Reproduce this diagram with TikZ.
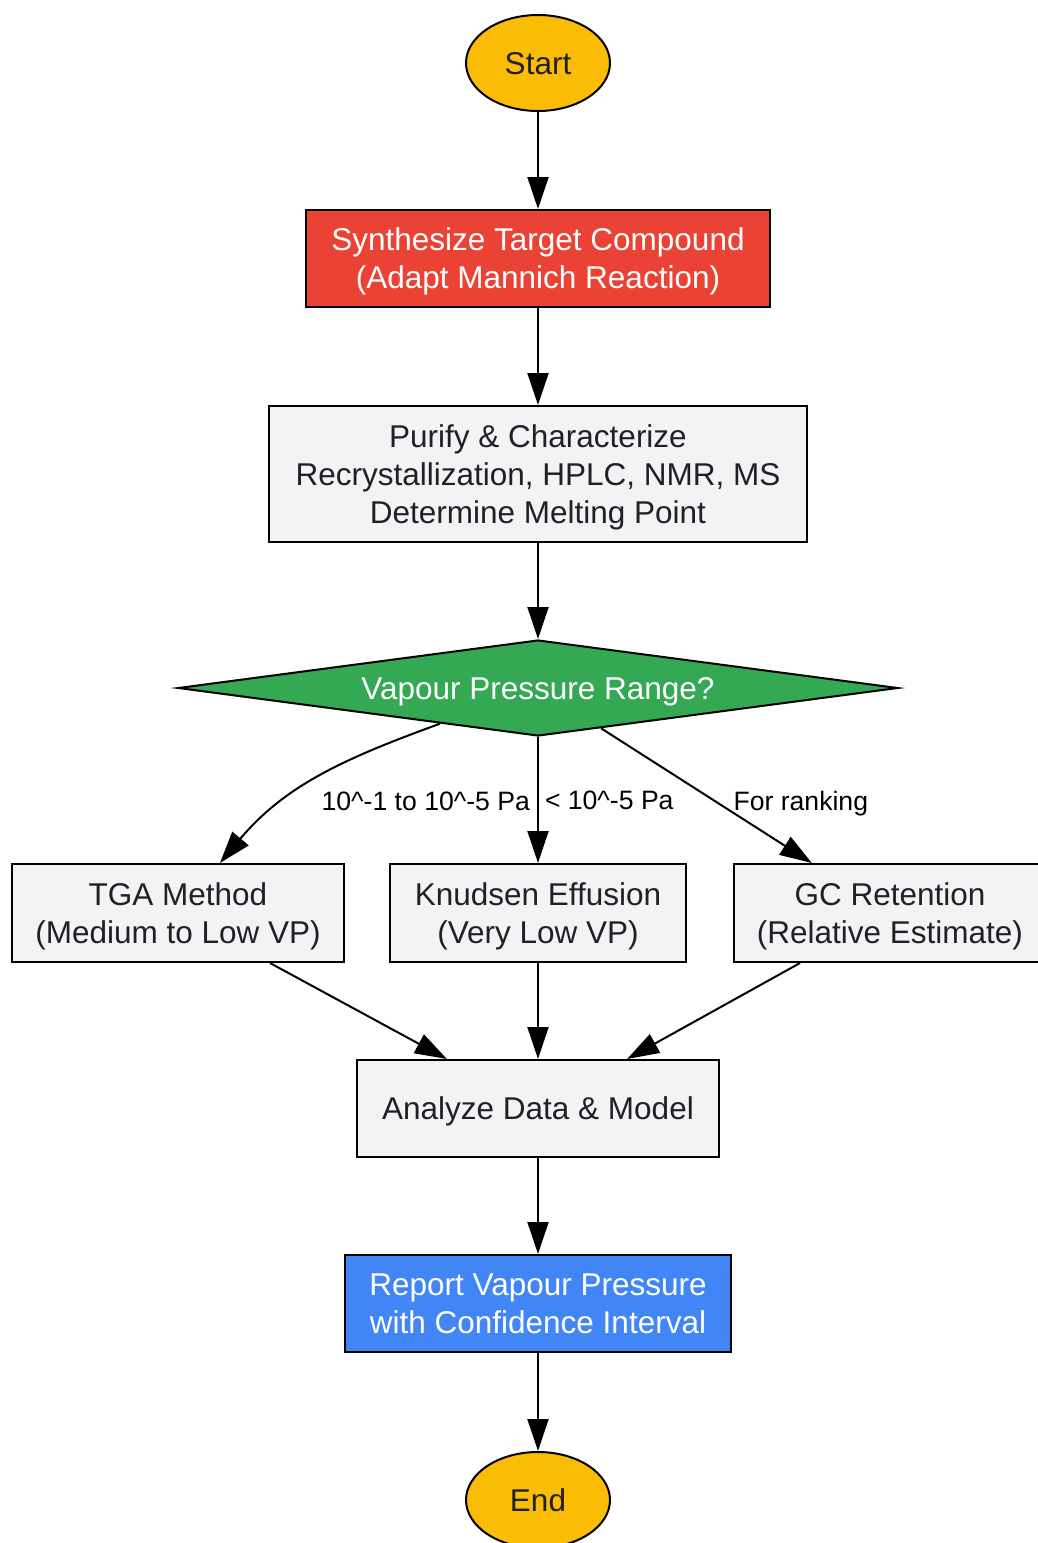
\documentclass[tikz,border=0pt]{standalone}
\usepackage{fontspec}
\setmainfont{Liberation Sans}
\usepackage{tikz}
\usetikzlibrary{shapes.geometric,arrows.meta}
\usetikzlibrary{positioning}
\definecolor{gred}{HTML}{EA4335}
\definecolor{ggreen}{HTML}{34A853}
\definecolor{gblue}{HTML}{4285F4}
\definecolor{gyellow}{HTML}{FBBC05}
\definecolor{ggray}{HTML}{F1F3F4}
\definecolor{gtext}{HTML}{202124}
\newcommand{\vpboxfont}{\fontsize{15.75}{19}\selectfont}
\newcommand{\vplabelfont}{\fontsize{13.3}{16}\selectfont}
\tikzstyle{terminal}=[ellipse,draw,line width=1pt,fill=gyellow,text=gtext,minimum width=72pt,minimum height=48pt,inner sep=0pt,text depth=0pt,font=\vpboxfont]
\tikzstyle{stepbox}=[rectangle,draw,line width=1pt,fill=ggray,text=gtext,inner sep=0pt,align=center,text depth=0pt,font=\vpboxfont]
\tikzstyle{decision}=[diamond,draw,line width=1pt,fill=ggreen,text=white,aspect=7.5,inner sep=0pt,text depth=0pt,minimum width=360pt,minimum height=48pt,font=\vpboxfont]
\tikzstyle{elabel}=[font=\vplabelfont,text=black,inner sep=1pt]
\tikzstyle{every edge}=[draw,line width=1pt]
\tikzset{>={Triangle[length=16pt,width=10.5pt]}}

\begin{document}
\begin{tikzpicture}[x=0.5pt,y=-0.5pt]
    \useasboundingbox (0,0) rectangle (1038,1543);

    \node[terminal] (start) at (538,63) {Start};
    \node[stepbox,fill=gred,text=white,minimum width=232pt,minimum height=48.5pt] (synth) at (538,258.5) {Synthesize Target Compound\\ (Adapt Mannich Reaction)};
    \node[stepbox,minimum width=269pt,minimum height=68pt] (purify) at (538,474) {Purify \& Characterize\\ Recrystallization, HPLC, NMR, MS\\ Determine Melting Point};
    \node[decision] (vprange) at (538,688) {Vapour Pressure Range?};
    \node[stepbox,minimum width=166pt,minimum height=49pt] (tga) at (178,913) {TGA Method\\ (Medium to Low VP)};
    \node[stepbox,minimum width=148pt,minimum height=49pt] (knudsen) at (538,913) {Knudsen Effusion\\ (Very Low VP)};
    \node[stepbox,minimum width=156pt,minimum height=49pt] (gc) at (890,913) {GC Retention\\ (Relative Estimate)};
    \node[stepbox,minimum width=181pt,minimum height=48.5pt] (analyze) at (538,1108.5) {Analyze Data \& Model};
    \node[stepbox,fill=gblue,text=white,minimum width=193pt,minimum height=48.5pt] (report) at (538,1303.5) {Report Vapour Pressure\\ with Confidence Interval};
    \node[terminal] (end) at (538,1500) {End};

    \draw[->] (start) edge (synth) ;
    \draw[->] (synth) edge (purify) ;
    \draw[->] (purify) edge (vprange) ;
    \draw[->] (vprange) edge[out=200,in=50] node[elabel,pos=0.5,anchor=north west,xshift=0pt,yshift=-6pt] {10\textasciicircum-1 to 10\textasciicircum-5 Pa} (tga) ;
    \draw[->] (vprange) edge node[elabel,pos=0.5,anchor=west,xshift=2pt] {< 10\textasciicircum-5 Pa} (knudsen) ;
    \draw[->] (vprange) edge node[elabel,pos=0.5,anchor=west,xshift=12pt,yshift=-4pt] {For ranking} (gc) ;
    \draw[->] (tga) edge (analyze) ;
    \draw[->] (knudsen) edge (analyze) ;
    \draw[->] (gc) edge (analyze) ;
    \draw[->] (analyze) edge (report) ;
    \draw[->] (report) edge (end) ;
\end{tikzpicture}
\end{document}
